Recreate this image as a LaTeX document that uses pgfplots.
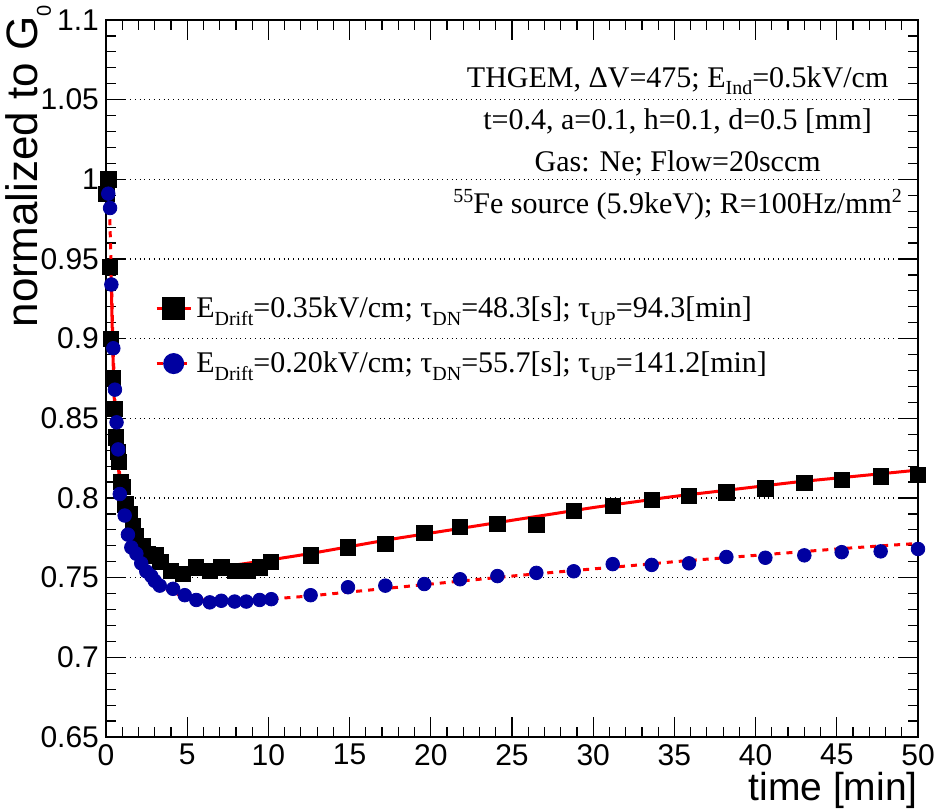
\documentclass[border=0pt]{standalone}
\usepackage{fontspec}
\setmainfont{Liberation Serif}
\newfontfamily\sansf{Liberation Sans}
\usepackage{pgfplots}
\pgfplotsset{compat=1.18}
\newcommand\sub[1]{\raisebox{-0.55ex}{\fontsize{10}{10}\selectfont #1}}
\newcommand\sups[1]{\raisebox{0.8ex}{\fontsize{10}{10}\selectfont #1}}
\definecolor{rootblue}{RGB}{0,0,160}
\definecolor{rootred}{RGB}{255,0,0}
\begin{document}
\begin{tikzpicture}
\useasboundingbox (-53pt,-37.5pt) rectangle (415pt,368.5pt);
\begin{axis}[
  at={(0,0)}, anchor=south west,
  scale only axis, width=406pt, height=358.5pt,
  xmin=0, xmax=50, ymin=0.65, ymax=1.1,
  xtick={0,5,...,50}, minor x tick num=4,
  ytick={0.65,0.7,0.75,0.8,0.85,0.9,0.95,1,1.05,1.1}, minor y tick num=4,
  major tick length=10pt, minor tick length=5pt,
  ymajorgrids, major grid style={black, dotted, line width=0.6pt},
  axis line style={line width=1pt},
  every tick/.style={black, line width=0.6pt},
  tick label style={font=\sansf\fontsize{15}{15}\selectfont},
  /pgf/number format/assume math mode=true,
  yticklabel style={/pgf/number format/fixed, /pgf/number format/precision=2},
  xlabel={time [min]}, ylabel={normalized to G\sub{0}},
  xlabel style={font=\sansf\fontsize{19.5}{19.5}\selectfont, at={(rel axis cs:1,-0.049)}, anchor=north east, inner sep=0pt},
  ylabel style={font=\sansf\fontsize{22}{22}\selectfont, at={(rel axis cs:-0.1235,1.021)}, anchor=north east, inner sep=0pt},
  legend style={draw=none, fill=none, at={(0.06,0.62)}, anchor=north west, inner xsep=0pt, inner ysep=0pt,
    font=\fontsize{15}{15}\selectfont, row sep=11.5pt, cells={anchor=west}},
  legend cell align=left,
  clip=true,
]
% data: E_Drift = 0.35 kV/cm
\addplot[only marks, mark=square*, mark size=3.8pt, mark options={fill=black, draw=black}, forget plot] coordinates {
(0.02,0.991) (0.15,1.0) (0.25,0.945) (0.3,0.900) (0.42,0.875) (0.52,0.856) (0.62,0.838) (0.72,0.829)
(0.8,0.8225) (0.9,0.810) (1.02,0.807) (1.2,0.796) (1.45,0.790) (1.65,0.7825) (1.85,0.776)
(2.25,0.770) (2.6,0.765) (3.05,0.764) (3.35,0.760) (4.0,0.754) (4.75,0.7525) (5.55,0.7565)
(6.4,0.754) (7.1,0.7565) (7.95,0.754) (8.75,0.754) (9.5,0.7565) (10.15,0.760)
(12.6,0.764) (14.9,0.769) (17.2,0.771) (19.6,0.778) (21.8,0.782) (24.1,0.7835) (26.5,0.783)
(28.8,0.792) (31.2,0.795) (33.6,0.799) (35.9,0.8015) (38.2,0.8035) (40.6,0.806) (43.0,0.8095)
(45.3,0.8115) (47.7,0.8135) (50.0,0.8145)
};
% data: E_Drift = 0.20 kV/cm
\addplot[only marks, mark=*, mark size=3.4pt, mark options={fill=rootblue, draw=rootblue}, forget plot] coordinates {
(0.14,0.991) (0.25,0.982) (0.33,0.934) (0.45,0.894) (0.55,0.868) (0.65,0.8475) (0.75,0.8305)
(0.85,0.8025) (1.15,0.789) (1.35,0.777) (1.56,0.769) (1.87,0.765) (2.17,0.759) (2.48,0.754)
(2.79,0.751) (3.0,0.748) (3.31,0.745) (4.13,0.743) (4.85,0.739) (5.56,0.736) (6.39,0.7345)
(7.1,0.7355) (7.92,0.735) (8.64,0.735) (9.46,0.736) (10.18,0.7365)
(12.6,0.739) (14.9,0.744) (17.2,0.745) (19.6,0.746) (21.8,0.749) (24.1,0.751) (26.5,0.753)
(28.8,0.754) (31.2,0.7585) (33.6,0.758) (35.9,0.759) (38.2,0.763) (40.6,0.7625) (43.0,0.764)
(45.3,0.766) (47.7,0.7665) (50.0,0.768)
};
% fit for 0.35 kV/cm
\addplot[rootred, line width=1.5pt, smooth, tension=0.4, forget plot] coordinates {
(0.3,0.948) (0.4,0.900) (0.5,0.865) (0.6,0.840) (0.8,0.815) (1.0,0.800) (1.25,0.789) (1.5,0.781)
(2.0,0.771) (2.5,0.765) (3.0,0.761) (3.5,0.758) (4.0,0.7565) (5.0,0.7555) (6.0,0.7557) (7.0,0.7565)
(8.0,0.758) (10,0.761) (12.5,0.765) (15,0.7695) (17.5,0.774) (20,0.778) (22.5,0.782) (25,0.786)
(27.5,0.790) (30,0.794) (32.5,0.7975) (35,0.801) (37.5,0.804) (40,0.807) (42.5,0.810) (45,0.8125)
(47.5,0.815) (50,0.8175)
};
% fit for 0.20 kV/cm
\addplot[rootred, line width=1.5pt, dash pattern=on 3pt off 3pt, smooth, tension=0.4, forget plot] coordinates {
(0.2,0.990) (0.3,0.950) (0.4,0.910) (0.5,0.875) (0.6,0.850) (0.8,0.820) (1.0,0.800) (1.25,0.786)
(1.5,0.776) (2.0,0.763) (2.5,0.754) (3.0,0.748) (3.5,0.744) (4,0.741) (5,0.7375) (6,0.736)
(7,0.7355) (8,0.7357) (9,0.736) (10,0.7365) (12.5,0.7385) (15,0.741) (17.5,0.7435) (20,0.746)
(22.5,0.7485) (25,0.751) (27.5,0.7533) (30,0.7555) (32.5,0.7577) (35,0.760) (37.5,0.762) (40,0.764)
(42.5,0.766) (45,0.768) (47.5,0.7698) (50,0.7715)
};
\addlegendimage{rootred, line width=1.5pt, mark=square*, mark size=5pt, mark options={solid, fill=black, draw=black}}
\addlegendentry{E\sub{Drift}=0.35kV/cm; τ\sub{DN}=48.3[s]; τ\sub{UP}=94.3[min]}
\addlegendimage{rootred, line width=1.5pt, dash pattern=on 3pt off 3pt, mark=*, mark size=4.5pt, mark options={solid, fill=rootblue, draw=rootblue}}
\addlegendentry{E\sub{Drift}=0.20kV/cm; τ\sub{DN}=55.7[s]; τ\sub{UP}=141.2[min]}
\node[align=center, anchor=north, inner sep=0pt, font=\fontsize{15}{21}\selectfont] at (rel axis cs:0.704,0.936)
 {THGEM, ΔV=475; E\sub{Ind}=0.5kV/cm\\ t=0.4, a=0.1, h=0.1, d=0.5 [mm]\\ Gas: Ne; Flow=20sccm\\ \sups{55}Fe source (5.9keV); R=100Hz/mm\sups{2}};
\end{axis}
\end{tikzpicture}
\end{document}
